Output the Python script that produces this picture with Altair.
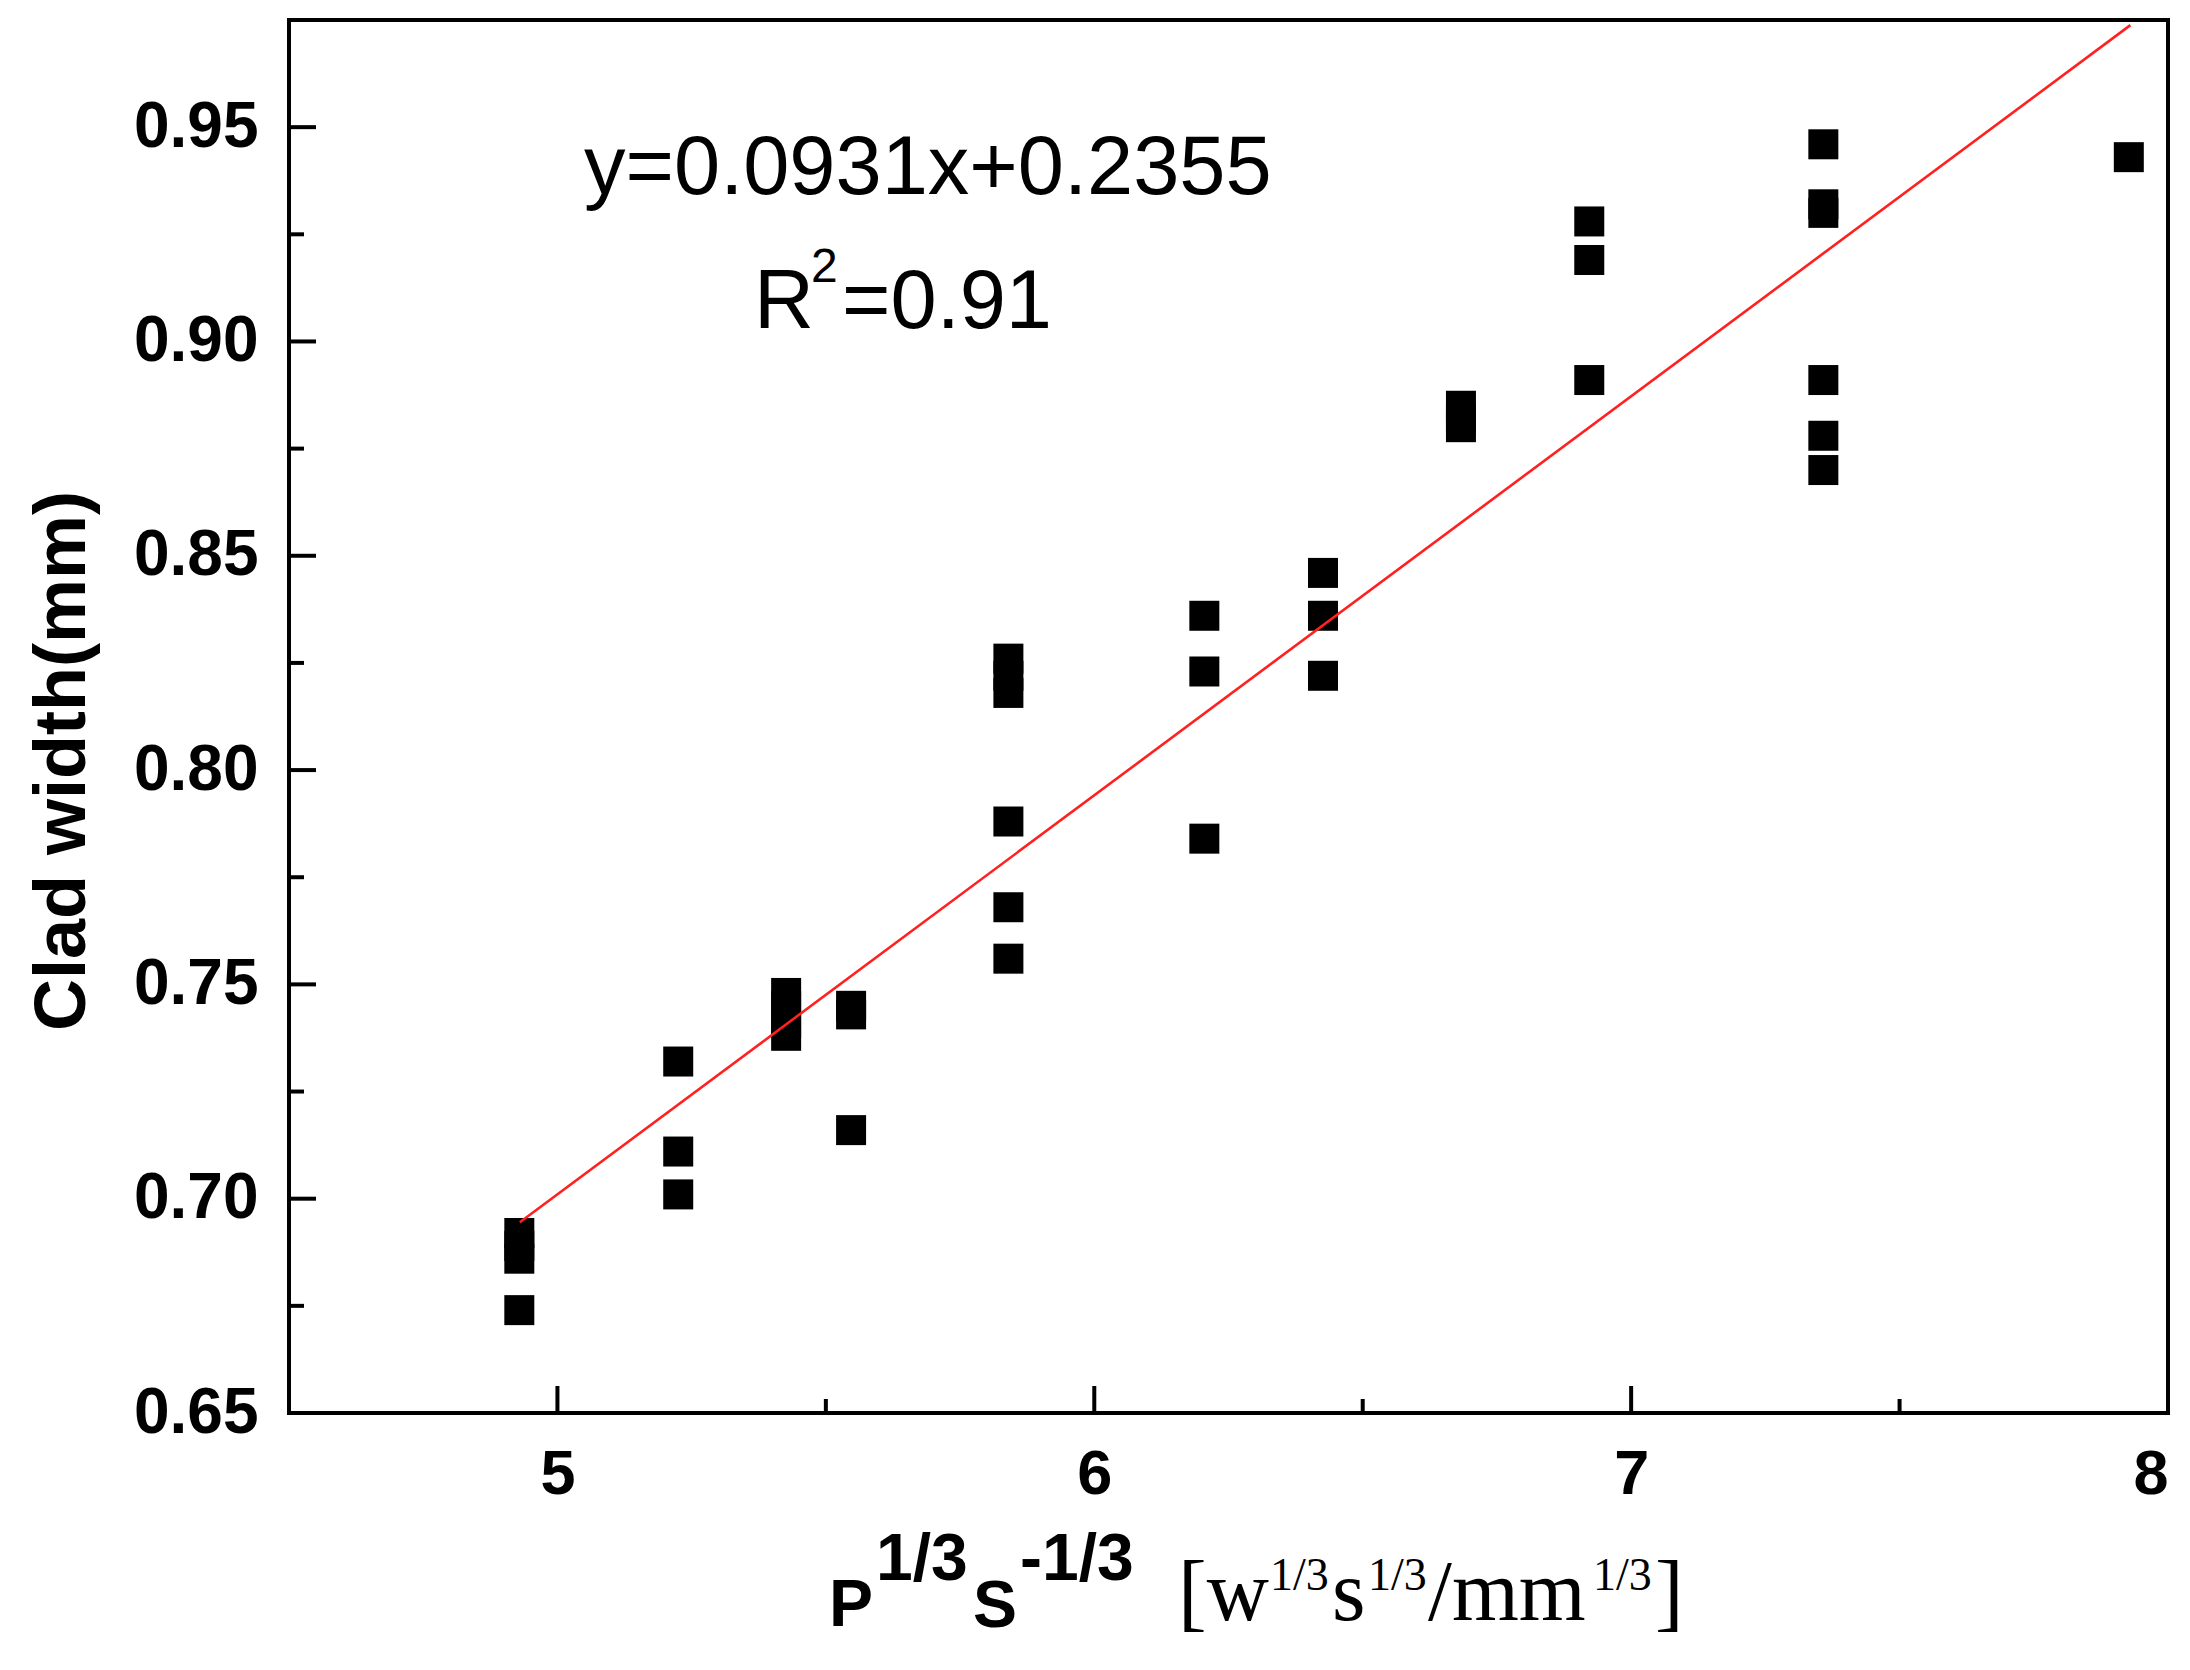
import altair as alt
import pandas as pd

# ---------------- data ----------------
x_groups = [4.929, 5.225, 5.426, 5.547, 5.840, 6.205, 6.426, 6.683, 6.922, 7.358, 7.927]
y_groups = [
    [0.692, 0.689, 0.686, 0.674],
    [0.732, 0.711, 0.701],
    [0.748, 0.745, 0.741, 0.738],
    [0.745, 0.743, 0.716],
    [0.826, 0.822, 0.818, 0.788, 0.768, 0.756],
    [0.836, 0.823, 0.784],
    [0.846, 0.836, 0.822],
    [0.885, 0.882, 0.880],
    [0.928, 0.919, 0.891],
    [0.946, 0.932, 0.930, 0.891, 0.878, 0.870],
    [0.943],
]
fit_x = [4.93, 7.93]
fit_y = [0.6945, 0.9738]

x_ticks_major = [5, 6, 7, 8]
x_ticks_minor = [5.5, 6.5, 7.5]
y_ticks_major = [0.65, 0.70, 0.75, 0.80, 0.85, 0.90, 0.95]
y_ticks_minor = [0.675, 0.725, 0.775, 0.825, 0.875, 0.925]

eq_text = "y=0.0931x+0.2355"
r_text, r_sup, r_rest = "R", "2", "=0.91"
y_title = "Clad width(mm)"

# ---------------- layout ----------------
W, H = 1879, 1393
OX, OY = 289, 20  # page position of plot origin
SANS = "Liberation Sans"
SERIF = "Liberation Serif"

rows = []
for xv, ys in zip(x_groups, y_groups):
    for yv in ys:
        rows.append({"x": xv, "y": yv})
pts = pd.DataFrame(rows)
fit = pd.DataFrame({"x": fit_x, "y": fit_y})

xscale = alt.Scale(domain=[4.5, 8], nice=False, zero=False)
yscale = alt.Scale(domain=[0.65, 0.975], nice=False, zero=False)

xaxis = alt.Axis(values=x_ticks_major, format="d", title=None, grid=False, domain=False,
                 ticks=False, tickSize=0, labelFont=SANS, labelFontSize=63,
                 labelFontWeight="bold", labelColor="black", labelPadding=30)
yaxis = alt.Axis(values=y_ticks_major, format=".2f", title=None, grid=False, domain=False,
                 ticks=False, tickSize=0, labelFont=SANS, labelFontSize=64,
                 labelFontWeight="bold", labelColor="black", labelPadding=31)

points = alt.Chart(pts).mark_square(size=900, color="black", opacity=1).encode(
    x=alt.X("x:Q", scale=xscale, axis=xaxis),
    y=alt.Y("y:Q", scale=yscale, axis=yaxis),
)

line = alt.Chart(fit).mark_line(color="#ff2020", strokeWidth=2.6, clip=True).encode(
    x=alt.X("x:Q", scale=xscale, axis=xaxis),
    y=alt.Y("y:Q", scale=yscale, axis=yaxis),
)


def yticks(vals, length):
    return alt.Chart(pd.DataFrame({"y": vals})).mark_rule(color="black", strokeWidth=4).encode(
        y=alt.Y("y:Q", scale=yscale, axis=yaxis), x=alt.value(0), x2=alt.value(length))


def xticks(vals, length):
    return alt.Chart(pd.DataFrame({"x": vals})).mark_rule(color="black", strokeWidth=4).encode(
        x=alt.X("x:Q", scale=xscale, axis=xaxis), y=alt.value(H), y2=alt.value(H - length))


def label(s, px, py, size, font=SANS, weight="normal", align="left", angle=0):
    return alt.Chart(pd.DataFrame({"t": [s]})).mark_text(
        font=font, fontSize=size, fontWeight=weight, align=align,
        baseline="alphabetic", angle=angle, color="black").encode(
        text="t:N", x=alt.value(px - OX), y=alt.value(py - OY))


texts = [
    label(eq_text, 584, 194, 83),
    label(r_text, 754, 328, 83),
    label(r_sup, 811, 282, 48),
    label(r_rest, 842, 328, 83),
    label(y_title, 85, 761, 72, weight="bold", align="center", angle=270),
    # x-axis title pieces
    label("P", 829, 1626, 66, weight="bold"),
    label("1/3", 876, 1580, 66, weight="bold"),
    label("S", 973, 1627, 66, weight="bold"),
    label("-1/3", 1020, 1580, 66, weight="bold"),
    label("[w", 1178, 1620, 86, font=SERIF),
    label("1/3", 1270, 1590, 46, font=SERIF),
    label("s", 1332, 1620, 86, font=SERIF),
    label("1/3", 1368, 1590, 46, font=SERIF),
    label("/mm", 1428, 1620, 86, font=SERIF),
    label("1/3", 1593, 1590, 46, font=SERIF),
    label("]", 1655, 1620, 86, font=SERIF),
]

chart = alt.layer(
    points, line,
    yticks(y_ticks_major, 27), yticks(y_ticks_minor, 15),
    xticks(x_ticks_major, 27), xticks(x_ticks_minor, 14),
    *texts,
).properties(
    width=W, height=H,
    autosize=alt.AutoSizeParams(type="none"),
    padding={"left": 281, "top": 12, "right": 8, "bottom": 235},
    background="white",
).configure_view(stroke="black", strokeWidth=4)

chart.save("out.html", embed_options={"renderer": "svg", "actions": False})
